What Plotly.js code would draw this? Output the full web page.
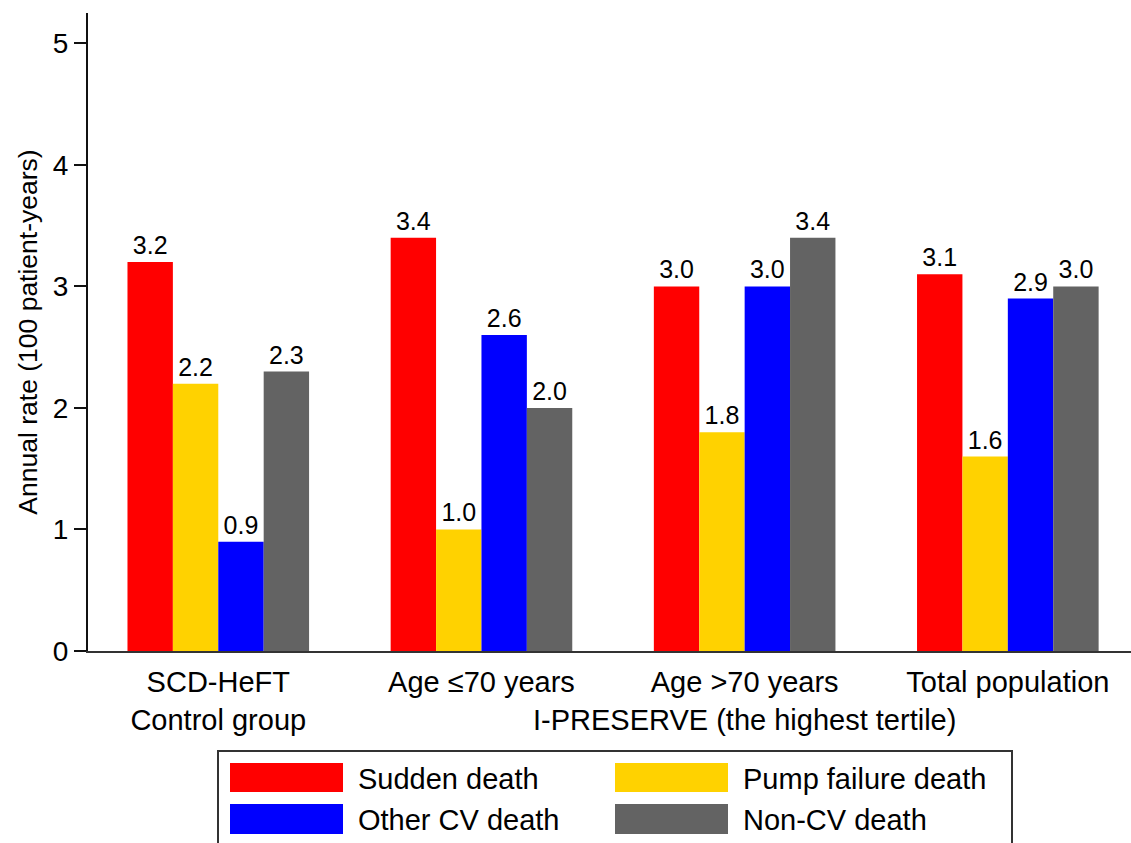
<!DOCTYPE html>
<html>
<head>
<meta charset="utf-8">
<script src="https://cdn.plot.ly/plotly-3.0.1.min.js"></script>
<style>html,body{margin:0;padding:0;background:#fff;overflow:hidden}</style>
</head>
<body>
<div id="chart" style="width:1131px;height:843px"></div>
<script>
// ---- data ----
var categories = ["SCD-HeFT<br>Control group", "Age ≤70 years", "Age >70 years", "Total population"];
var seriesNames = ["Sudden death", "Pump failure death", "Other CV death", "Non-CV death"];
var suddenDeath = [3.2, 3.4, 3.0, 3.1];
var pumpFailureDeath = [2.2, 1.0, 1.8, 1.6];
var otherCvDeath = [0.9, 2.6, 3.0, 2.9];
var nonCvDeath = [2.3, 2.0, 3.4, 3.0];
var groupLabel = "I-PRESERVE (the highest tertile)";
var groupIndices = [1, 2, 3];
var yTitle = "Annual rate (100 patient-years)";
var yTicks = [0, 1, 2, 3, 4, 5];

// ---- styles ----
var colors = ["#FF0000", "#FFD200", "#0000FF", "#636363"];
var FONT = "Liberation Sans, Arial, sans-serif";
var seriesValues = [suddenDeath, pumpFailureDeath, otherCvDeath, nonCvDeath];

var traces = seriesValues.map(function (vals, i) {
  return {
    type: "bar",
    name: seriesNames[i],
    x: categories,
    y: vals,
    marker: {color: colors[i], line: {width: 0}},
    text: vals.map(function (v) { return v.toFixed(1); }),
    textposition: "outside",
    textfont: {family: FONT, size: 25, color: "#000"},
    cliponaxis: false,
    hoverinfo: "x+y+name",
    showlegend: false
  };
});

// plot area in pixels
var W = 1131, H = 843, ML = 88, MR = 0, MT = 13, MB = 192;
var PW = W - ML - MR, PH = H - MT - MB;
function px(x) { return (x - ML) / PW; }
function py(y) { return (H - MB - y) / PH; }

var shapes = [];
var annotations = [];

// group label under the I-PRESERVE columns
var gMid = groupIndices.reduce(function (a, b) { return a + b; }, 0) / groupIndices.length;
annotations.push({
  x: gMid, xref: "x", y: py(720), yref: "paper",
  text: groupLabel, showarrow: false,
  xanchor: "center", yanchor: "middle",
  font: {family: FONT, size: 29, color: "#000"}
});

// legend box
shapes.push({
  type: "rect", xref: "paper", yref: "paper",
  x0: px(218), x1: px(1012), y0: py(860), y1: py(751),
  line: {color: "#333", width: 2}, fillcolor: "rgba(0,0,0,0)"
});
var legendCols = [230, 615];
var legendRows = [[763, 792], [804, 834]];
var textOffset = 126;
seriesNames.forEach(function (name, i) {
  var col = i % 2, row = Math.floor(i / 2);
  var x0 = legendCols[col], r = legendRows[row];
  shapes.push({
    type: "rect", xref: "paper", yref: "paper",
    x0: px(x0), x1: px(x0 + 113), y0: py(r[1]), y1: py(r[0]),
    line: {width: 0}, fillcolor: colors[i]
  });
  annotations.push({
    x: px(x0 + textOffset), xref: "paper", y: py((r[0] + r[1]) / 2 + 1), yref: "paper",
    text: name, showarrow: false, xanchor: "left", yanchor: "middle",
    font: {family: FONT, size: 29, color: "#000"}
  });
});

var layout = {
  width: W, height: H,
  margin: {l: ML, r: MR, t: MT, b: MB, pad: 0},
  paper_bgcolor: "#fff", plot_bgcolor: "#fff",
  font: {family: FONT, color: "#000"},
  barmode: "group",
  bargap: 0.31,
  bargroupgap: 0,
  showlegend: false,
  xaxis: {
    type: "category",
    range: [-0.495, 3.468],
    showline: true, linecolor: "#333", linewidth: 2,
    ticks: "", showgrid: false, zeroline: false,
    tickfont: {family: FONT, size: 29, color: "#000"},
    ticklabelstandoff: 4,
    fixedrange: true
  },
  yaxis: {
    range: [0, 5.25],
    tickvals: yTicks,
    ticktext: yTicks.map(String),
    showline: true, linecolor: "#111", linewidth: 2,
    ticks: "outside", ticklen: 12, tickwidth: 2, tickcolor: "#111",
    showgrid: false, zeroline: false,
    tickfont: {family: FONT, size: 28, color: "#000"},
    title: {text: yTitle, font: {family: FONT, size: 26.5, color: "#000"}, standoff: 8},
    fixedrange: true
  },
  shapes: shapes,
  annotations: annotations
};

Plotly.newPlot("chart", traces, layout, {displayModeBar: false, staticPlot: true});
</script>
</body>
</html>
